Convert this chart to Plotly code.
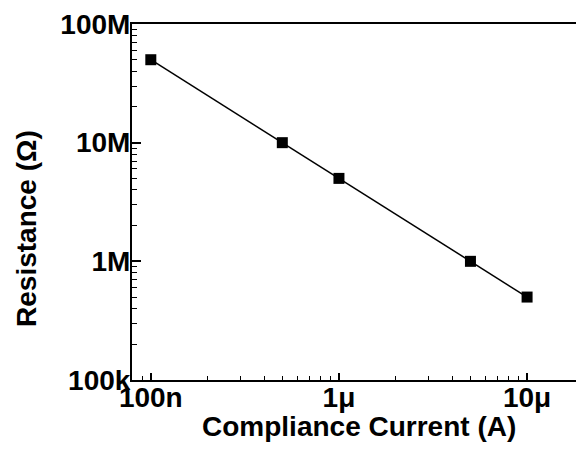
import plotly.graph_objects as go

current = [1e-7, 5e-7, 1e-6, 5e-6, 1e-5]
resistance = [5e7, 1e7, 5e6, 1e6, 5e5]

x_tickvals = [1e-7, 1e-6, 1e-5]
x_ticktext = ["100n", "1μ", "10μ"]
y_tickvals = [1e5, 1e6, 1e7, 1e8]
y_ticktext = ["100k", "1M", "10M", "100M"]

x_minor = [m * 10**e for e in range(-8, -4) for m in range(2, 10)]
y_minor = [m * 10**e for e in range(5, 8) for m in range(2, 10)]

x_title = "Compliance Current (A)"
y_title = "Resistance (Ω)"

font_fam = "Liberation Sans"
FS = 28
XR = [-7.1, -4.74]
YR = [5, 8]

fig = go.Figure()
fig.add_trace(go.Scatter(
    x=current, y=resistance, mode="lines+markers",
    line=dict(color="black", width=1.5),
    marker=dict(symbol="square", size=11, color="black"),
    showlegend=False,
))
# invisible trace to hold the minor-tick overlay axes
fig.add_trace(go.Scatter(
    x=[current[0]], y=[resistance[0]], xaxis="x2", yaxis="y2",
    mode="markers", marker=dict(opacity=0), showlegend=False, hoverinfo="skip",
))

fig.update_layout(
    width=576, height=449,
    margin=dict(l=132, r=0, t=24, b=69),
    plot_bgcolor="white", paper_bgcolor="white",
    font=dict(family=font_fam, size=FS, color="black", weight="bold"),
    xaxis=dict(
        type="log", range=XR,
        tickmode="array", tickvals=x_tickvals, ticktext=x_ticktext,
        ticks="inside", ticklen=7, tickwidth=1.5, tickcolor="black",
        showline=True, linecolor="black", linewidth=2, mirror=True,
        showgrid=False, zeroline=False, ticklabelstandoff=-9,
        tickfont=dict(family=font_fam, size=FS, weight="bold"),
    ),
    yaxis=dict(
        type="log", range=YR,
        tickmode="array", tickvals=y_tickvals, ticktext=y_ticktext,
        ticks="inside", ticklen=9, tickwidth=1.5, tickcolor="black",
        showline=True, linecolor="black", linewidth=2, mirror=False,
        showgrid=False, zeroline=False, ticklabelstandoff=-6,
        tickfont=dict(family=font_fam, size=FS, weight="bold"),
    ),
    xaxis2=dict(
        type="log", range=XR, overlaying="x", anchor="y2", side="bottom",
        tickmode="array", tickvals=x_minor, showticklabels=False,
        ticks="inside", ticklen=4, tickwidth=1, tickcolor="black",
        showline=False, showgrid=False, zeroline=False,
    ),
    yaxis2=dict(
        type="log", range=YR, overlaying="y", anchor="x2", side="left",
        tickmode="array", tickvals=y_minor, showticklabels=False,
        ticks="inside", ticklen=5, tickwidth=1, tickcolor="black",
        showline=False, showgrid=False, zeroline=False,
    ),
    annotations=[
        dict(text=x_title, xref="paper", yref="paper", x=0.511, y=-0.13,
             xanchor="center", yanchor="middle", showarrow=False,
             font=dict(family=font_fam, size=FS, weight="bold")),
        dict(text=y_title, xref="paper", yref="paper", x=-0.2365, y=0.427,
             xanchor="center", yanchor="middle", showarrow=False, textangle=-90,
             font=dict(family=font_fam, size=FS, weight="bold")),
    ],
)

fig.write_html("out.html")
